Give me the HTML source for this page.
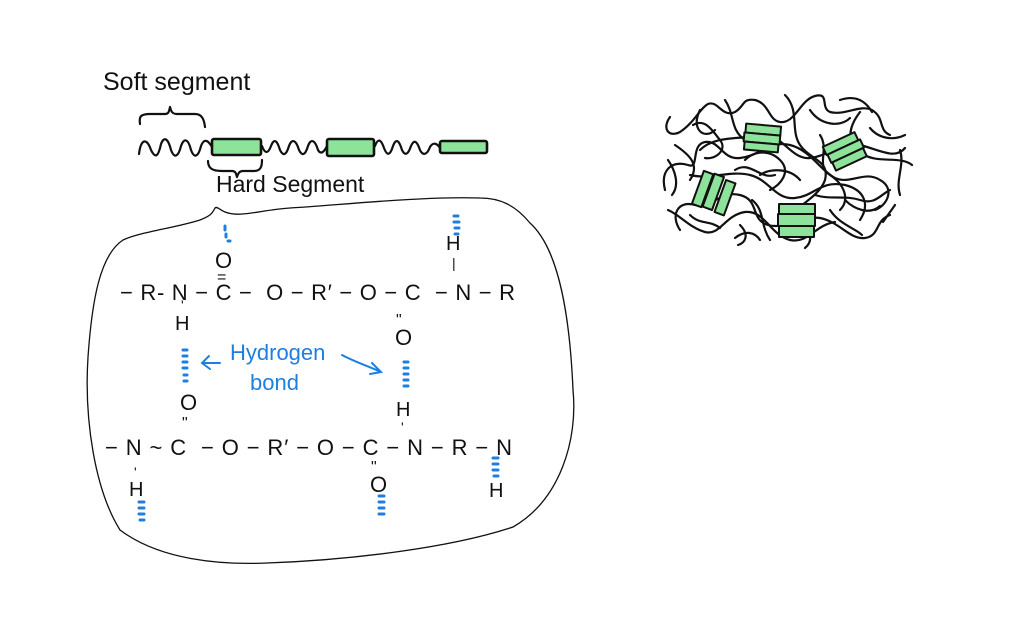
<!DOCTYPE html>
<html><head><meta charset="utf-8"><style>
html,body{margin:0;padding:0;background:#fff;}
svg{display:block;}
text{font-family:"Liberation Sans",sans-serif;}
</style></head><body>
<svg width="1024" height="623" viewBox="0 0 1024 623" xmlns="http://www.w3.org/2000/svg">
<g fill="none" stroke="#111" stroke-width="2.2" stroke-linecap="round" stroke-linejoin="round">
<path d="M139,154 C141,138 147,138 151,150 C155,158 158,158 161,144 C164,136 168,138 171,150 C174,158 178,158 181,146 C184,138 188,138 191,150 C194,158 198,158 201,146 C204,138 208,140 212,147"/>
<path d="M262,146 C265,154 268,154 271,146 C274,138 277,140 280,150 C283,156 286,156 289,146 C292,138 296,140 299,150 C302,156 305,156 308,146 C311,138 315,140 318,150 C321,155 324,152 327,146"/>
<path d="M375,146 C378,138 381,139 384,148 C387,156 390,156 393,146 C396,138 399,140 402,150 C405,156 408,155 411,146 C414,139 417,141 420,150 C423,156 427,155 430,147 C433,142 437,143 440,148"/>
<path d="M140,124 C139,117 140,114 150,114 L165,114 C169,114 169,111 170,107 C171,111 172,114 177,114 L195,114 C201,114 204,118 205,127"/>
<path d="M208,161 C208,168 212,171 222,171 L232,171 C236,171 236,174 237,177 C238,174 239,171 243,171 L254,171 C261,171 262,166 262,160"/>
<path stroke-width="1.3" d="M215,208 C212,214 210,216 200,220 C175,228 140,232 123,240 C100,255 92,300 88,357 C84,420 95,490 120,530 C160,560 220,565 267,563 C350,560 450,548 513,527 C560,500 578,440 573,390 C570,320 560,250 530,223 C515,205 500,198 480,198 C420,196 330,206 290,208 C260,210 240,218 225,212 C220,210 217,206 215,208 Z"/>
</g>
<g fill="#8de39a" stroke="#111" stroke-width="2.6" stroke-linejoin="round">
<rect x="212" y="139" width="49" height="16" rx="2"/>
<rect x="327" y="139" width="47" height="17" rx="2"/>
<rect x="440" y="141" width="47" height="12" rx="2"/>
</g>
<text x="103" y="90" font-size="25" fill="#111">Soft segment</text>
<text x="216" y="192" font-size="23" fill="#111">Hard Segment</text>

<g font-size="22" fill="#111">
<text x="120" y="300" textLength="395" lengthAdjust="spacing">− R- N − C − &#160;O − R′ − O − C &#160;− N − R</text>
<text x="105" y="455" textLength="407" lengthAdjust="spacing">− N ~ C &#160;− O − R′ − O − C − N − R − N</text>
<text x="215" y="268">O</text>
<text x="217" y="282" font-size="16">=</text>
<text x="175" y="330" font-size="20">H</text>
<text x="181" y="310" font-size="14">'</text>
<text x="446" y="250" font-size="20">H</text>
<text x="452" y="268" font-size="14">|</text>
<text x="395" y="345">O</text>
<text x="396" y="325" font-size="16">"</text>
<text x="396" y="416" font-size="20">H</text>
<text x="401" y="432" font-size="14">'</text>
<text x="180" y="410">O</text>
<text x="182" y="428" font-size="16">"</text>
<text x="129" y="496" font-size="20">H</text>
<text x="134" y="477" font-size="14">'</text>
<text x="370" y="492">O</text>
<text x="371" y="472" font-size="16">"</text>
<text x="489" y="497" font-size="20">H</text>
</g>
<g stroke="#1e7fe0" stroke-width="3" stroke-linecap="round" fill="none">
<path d="M225,226 v4 M226,234 v3 M228,241 h2"/>
<path d="M183,350 h4 M183,356 h4 M183,362 h4 M183,368 h4 M184,375 h3 M184,381 h3"/>
<path d="M404,362 h4 M404,368 h4 M404,374 h4 M404,380 h4 M404,386 h4"/>
<path d="M454,216 h4 M454,222 h5 M455,228 h4 M455,234 h3"/>
<path d="M493,458 h5 M493,464 h5 M493,470 h5 M494,476 h4"/>
<path d="M139,502 h5 M139,508 h5 M139,514 h5 M140,520 h4"/>
<path d="M379,496 h5 M379,502 h5 M379,508 h5 M379,514 h5"/>
<path stroke-width="2" d="M220,363 h-18 M209,356 l-7,7 l8,6"/>
<path stroke-width="2" d="M342,355 C355,362 368,366 381,372 M372,363 l9,9 l-11,2"/>
</g>
<text x="230" y="360" font-size="22" fill="#1e7fe0">Hydrogen</text>
<text x="250" y="390" font-size="22" fill="#1e7fe0">bond</text>

<g fill="none" stroke="#111" stroke-width="2.2" stroke-linecap="round">
<path d="M670,117 C662,128 668,138 680,132 C695,122 700,108 708,104 C718,100 722,118 735,112 C745,106 742,98 755,100 C770,104 768,120 780,122 C795,124 800,100 815,96 C830,92 820,108 830,112 C845,116 860,104 872,110 C885,118 878,130 890,135"/>
<path d="M665,190 C660,170 672,160 688,165 C700,170 690,145 705,142 C720,140 722,160 740,158 C760,156 770,140 790,145 C810,150 820,170 835,178 C850,185 865,170 880,180 C895,188 888,205 875,210"/>
<path d="M680,230 C670,215 678,200 695,205 C710,210 720,190 740,195 C760,200 750,220 768,225 C785,230 800,215 820,218 C840,222 850,240 865,238 C880,236 875,220 890,215"/>
<path d="M668,210 C680,215 690,228 705,232 C720,236 725,215 745,212 C765,210 770,235 790,240 C808,244 815,225 835,222"/>
<path d="M700,150 C715,135 740,140 760,135 C780,130 790,160 810,158 C830,156 840,140 860,145 C880,150 895,160 905,148"/>
<path d="M690,175 C710,180 730,170 750,175 C770,180 775,200 795,198 C815,196 820,180 845,185 C865,190 870,205 860,220"/>
<path d="M725,100 C735,115 730,130 745,140 M860,112 C850,125 845,140 860,152 C875,165 900,155 912,165"/>
<path d="M785,95 C800,110 790,130 800,145 C810,160 830,160 825,180 C820,195 800,205 790,215"/>
<path d="M735,170 C750,160 760,180 775,175 M820,135 C830,150 815,165 830,175 C845,185 850,200 840,210"/>
<path d="M900,150 C905,165 895,180 900,195 M895,205 L883,222"/>
<path d="M675,145 C690,155 700,165 690,180 M752,200 C765,210 760,225 770,240 M808,230 C812,238 810,244 805,248"/>
<path d="M735,238 C745,230 755,232 760,240 M845,200 C855,210 870,215 880,206"/>
<path d="M693,125 C705,118 712,130 720,140 C728,150 715,160 705,158 M745,160 C755,150 770,150 780,160 C792,172 780,185 770,190"/>
<path d="M810,110 C820,125 840,128 850,118 M870,128 C880,140 895,140 905,135 M840,100 C855,95 865,100 872,112"/>
<path d="M700,110 C690,130 705,140 715,130 M760,175 C770,168 790,168 800,180 M815,195 C830,200 845,195 860,200 C875,205 880,195 890,190"/>
<path d="M668,160 C675,170 680,185 672,195 M690,215 C700,225 710,220 720,228 M740,225 C750,235 745,243 738,245 M830,210 C840,225 855,228 862,235"/>
</g>
<g fill="#8de39a" stroke="#111" stroke-width="2" stroke-linejoin="round">
<g transform="rotate(5 762 138)"><rect x="745" y="125" width="35" height="9"/><rect x="744" y="134" width="36" height="9"/><rect x="745" y="143" width="34" height="8"/></g>
<g transform="rotate(-25 845 152)"><rect x="827" y="138" width="35" height="9"/><rect x="828" y="147" width="36" height="9"/><rect x="829" y="156" width="34" height="9"/></g>
<g transform="rotate(20 715 193)"><rect x="697" y="176" width="10" height="35"/><rect x="708" y="175" width="10" height="35"/><rect x="721" y="177" width="10" height="34"/></g>
<g><rect x="779" y="204" width="36" height="10"/><rect x="778" y="214" width="37" height="12"/><rect x="779" y="226" width="35" height="11"/></g>
</g>
</svg>
</body></html>
